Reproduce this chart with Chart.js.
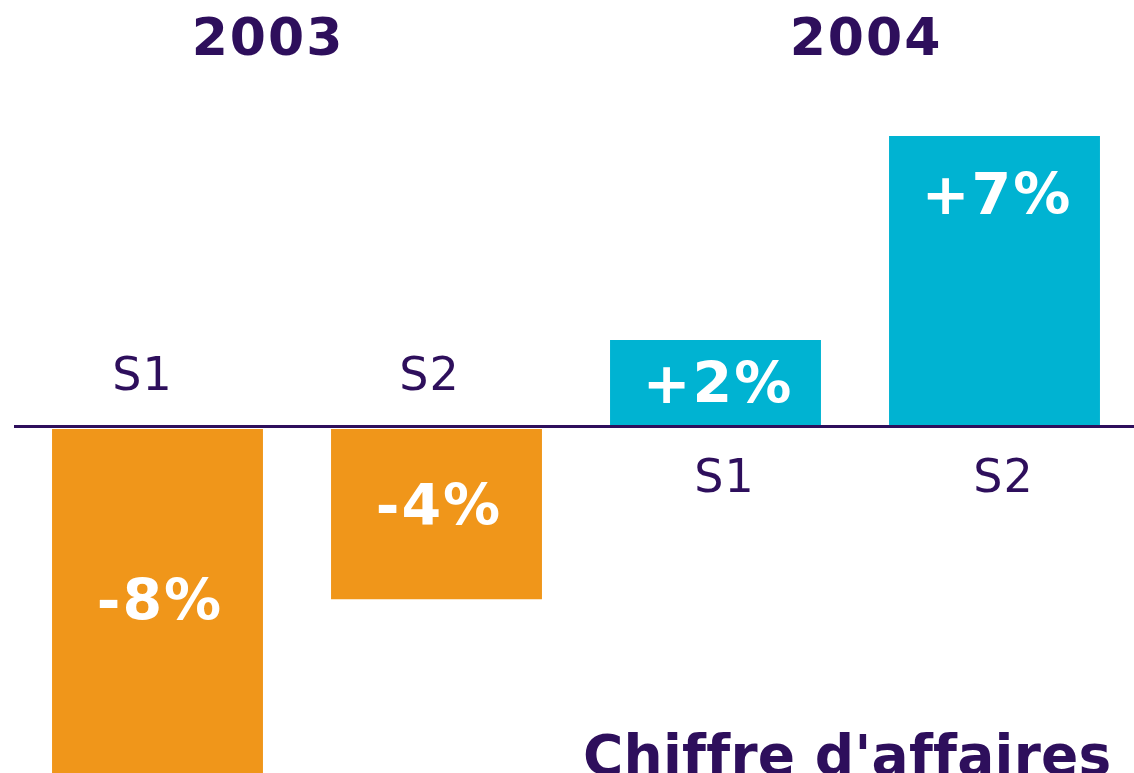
<!DOCTYPE html>
<html lang="fr">
<head>
<meta charset="utf-8">
<title>Chiffre d'affaires</title>
<script src="https://cdn.jsdelivr.net/npm/chart.js@4.4.1/dist/chart.umd.min.js"></script>
<style>
  html, body { margin: 0; padding: 0; background: #fff; overflow: hidden; }
  #wrap { width: 1134px; height: 773px; position: relative; }
</style>
</head>
<body>
<div id="wrap"><canvas id="chart"></canvas></div>
<script>
// Revenue growth per half-year, in %
const periods = ["S1", "S2", "S1", "S2"];
const years = ["2003", "2004"];
const growth = [-8.2, -4.1, 2.0, 6.8];
const growthLabels = ["-8%", "-4%", "+2%", "+7%"];
const chartTitle = "Chiffre d'affaires";

const PURPLE = "#2E0F5C";
const ORANGE = "#F0961A";
const CYAN = "#00B3D2";
const FONT = "'DejaVu Sans', Verdana, sans-serif";

const annotations = {
  id: "annotations",
  afterDatasetsDraw(chart) {
    const ctx = chart.ctx;
    const zero = Math.round(chart.scales.y.getPixelForValue(0));
    const area = chart.chartArea;
    const bars = chart.getDatasetMeta(0).data;

    ctx.save();
    // zero axis line, with a thin white gap under it
    ctx.fillStyle = PURPLE;
    ctx.fillRect(14, zero, chart.width - 14, 3);
    ctx.fillStyle = "#fff";
    ctx.fillRect(14, zero + 3, chart.width - 14, 1);

    // value inside each bar
    const valueShift = [1, -7, 1, -86];
    ctx.textAlign = "center";
    ctx.textBaseline = "alphabetic";
    ctx.fillStyle = "#fff";
    ctx.font = "bold 57px " + FONT;
    ctx.letterSpacing = "2px";
    bars.forEach((bar, i) => {
      const top = Math.max(Math.min(bar.y, bar.base), area.top);
      const bottom = Math.min(Math.max(bar.y, bar.base), area.bottom);
      const mid = (top + bottom) / 2 + valueShift[i];
      ctx.fillText(growthLabels[i], bar.x + 2.5, mid + 20);
    });

    // half-year name on the opposite side of the axis
    const periodShift = [-15, -7, 9, 9];
    ctx.fillStyle = PURPLE;
    ctx.font = "46px " + FONT;
    ctx.letterSpacing = "1px";
    bars.forEach((bar, i) => {
      const cy = growth[i] < 0 ? zero - 52 : zero + 50;
      ctx.fillText(periods[i], bar.x + periodShift[i], cy + 17);
    });

    // year headings
    ctx.font = "bold 52px " + FONT;
    ctx.letterSpacing = "2px";
    ctx.fillText(years[0], 268, 55);
    ctx.fillText(years[1], 866, 55);

    // title, cut by the bottom edge like the original
    ctx.textAlign = "left";
    ctx.font = "bold 55px " + FONT;
    ctx.letterSpacing = "0.25px";
    ctx.fillText(chartTitle, 583, 774);
    ctx.restore();
  },
};

new Chart(document.getElementById("chart"), {
  type: "bar",
  data: {
    labels: periods,
    datasets: [
      {
        data: growth,
        backgroundColor: growth.map((v) => (v < 0 ? ORANGE : CYAN)),
        borderWidth: 0,
        barPercentage: 0.756,
        categoryPercentage: 1,
      },
    ],
  },
  options: {
    responsive: true,
    maintainAspectRatio: false,
    animation: false,
    layout: { padding: { left: 18, right: 0, top: 0, bottom: 0 } },
    plugins: { legend: { display: false }, tooltip: { enabled: false } },
    scales: {
      x: { display: false },
      y: { display: false, min: -8.19, max: 10 },
    },
  },
  plugins: [annotations],
});
</script>
</body>
</html>
